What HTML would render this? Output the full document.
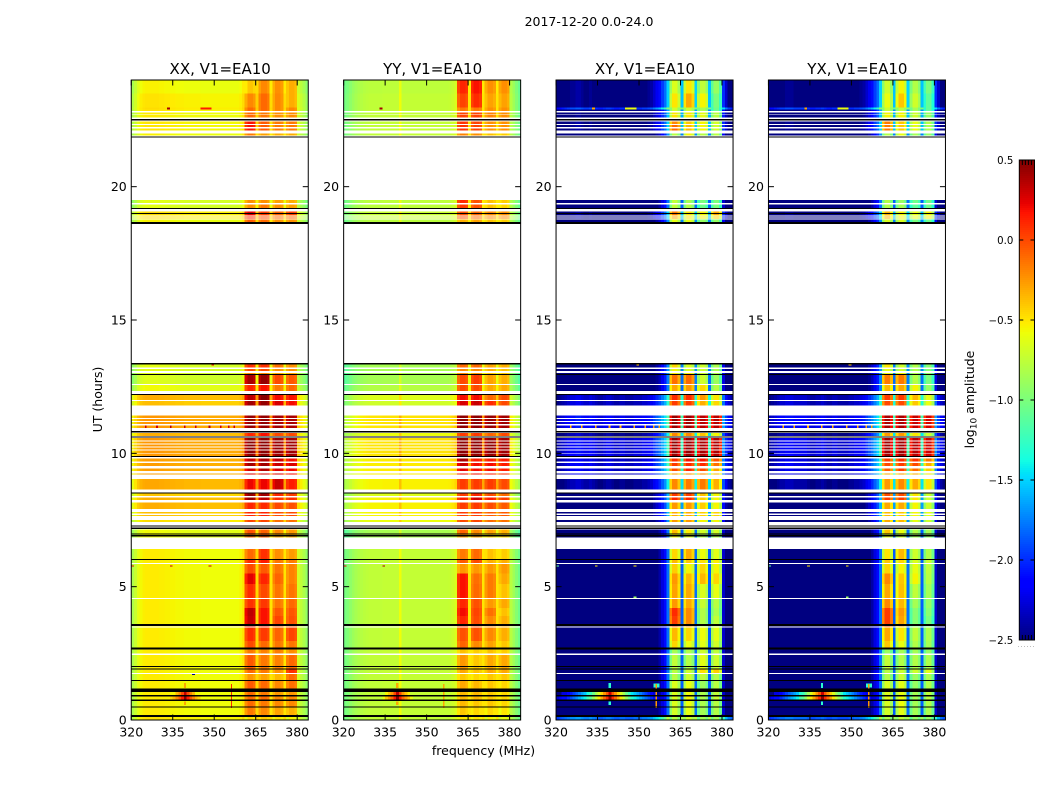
<!DOCTYPE html>
<html lang="en">
<head>
<meta charset="utf-8">
<title>2017-12-20 amplitude spectra</title>
<style>
html,body{margin:0;padding:0;background:#fff;}
svg{display:block;}
text{font-family:"DejaVu Sans","Liberation Sans",sans-serif;fill:#000;}
</style>
</head>
<body>
<svg id="figure" xmlns="http://www.w3.org/2000/svg" width="1050" height="800" viewBox="0 0 1050 800">
  <rect x="0" y="0" width="1050" height="800" fill="#fff"/>
  <text x="589" y="26" font-size="12.5" text-anchor="middle">2017-12-20 0.0-24.0</text>
  <text x="220.2" y="74" font-size="15" text-anchor="middle">XX, V1=EA10</text>
  <text x="432.6" y="74" font-size="15" text-anchor="middle">YY, V1=EA10</text>
  <text x="645" y="74" font-size="15" text-anchor="middle">XY, V1=EA10</text>
  <text x="857.4" y="74" font-size="15" text-anchor="middle">YX, V1=EA10</text>
  <text x="483.5" y="755" font-size="12.5" text-anchor="middle">frequency (MHz)</text>
  <text transform="translate(102,399.5) rotate(-90)" font-size="12.5" text-anchor="middle">UT (hours)</text>
  <text transform="translate(974,399.5) rotate(-90)" font-size="12.5" text-anchor="middle">log<tspan font-size="9" dy="2.5">10</tspan><tspan dy="-2.5"> amplitude</tspan></text>
  <text x="1026.5" y="647" font-size="6" letter-spacing="1.1" fill="#777" text-anchor="middle" style="fill:#777">......</text>
</svg>
<script>
var xTicks = [320, 335, 350, 365, 380];
var xTickLabels = ["320", "335", "350", "365", "380"];
var yTicks = [0, 5, 10, 15, 20];
var yTickLabels = ["0", "5", "10", "15", "20"];
var cbarTicks = [-2.5, -2, -1.5, -1, -0.5, 0, 0.5];
var cbarTickLabels = ["\u22122.5", "\u22122.0", "\u22121.5", "\u22121.0", "\u22120.5", "0.0", "0.5"];
var panelKeys = ["xx", "yy", "xy", "yx"];

var bandFirst = [41, 46, 51, 56];
var bandLast = [44, 49, 54, 59];

var xxProfile = [-.82,-.72,-.62,-.56,-.53,-.52,-.52,-.52,-.52,-.52,-.53,-.53,-.54,-.54,-.55,-.55,-.56,-.56,-.56,-.57,-.57,-.57,-.57,-.57,-.57,-.58,-.58,-.58,-.58,-.58,-.58,-.58,-.58,-.58,-.58,-.58,-.58,-.58,-.58,-.56,-.5,
  -.12,0,0,-.05,-.45,-.08,0,0,-.05,-.5,-.1,0,0,-.05,-.5,-.08,0,0,-.05,-.68,-.75,-.82,-.92];
var yyProfile = [-1.02,-.98,-.93,-.88,-.84,-.81,-.79,-.77,-.76,-.75,-.75,-.75,-.75,-.75,-.74,-.74,-.74,-.74,-.74,-.74,-.58,-.74,-.74,-.74,-.74,-.74,-.74,-.74,-.74,-.74,-.74,-.74,-.74,-.74,-.74,-.74,-.74,-.74,-.73,-.7,-.65,
  -.1,0,0,-.05,-.5,-.08,0,0,-.05,-.5,-.1,0,0,-.05,-.5,-.08,0,0,-.05,-.78,-.87,-.96,-1.05];
var xyProfile = [-2.4,-2.35,-2.3,-2.25,-2.2,-2.15,-2.15,-2.1,-2.1,-2.15,-2.2,-2.2,-2.15,-2.2,-2.25,-2.3,-2.3,-2.25,-2.2,-2.2,-2.25,-2.3,-2.3,-2.25,-2.25,-2.3,-2.3,-2.3,-2.25,-2.25,-2.25,-2.2,-2.2,-2.15,-2.1,-2.0,-1.9,-1.8,-1.65,-1.5,-1.2,
  -.25,0,0,-.2,-1.25,-.2,0,0,-.15,-1.2,-.2,0,0,-.15,-1.25,-.2,0,0,-.25,-1.7,-2.0,-2.2,-2.3];
var yxProfile = [-2.4,-2.35,-2.3,-2.25,-2.2,-2.2,-2.15,-2.15,-2.15,-2.2,-2.2,-2.2,-2.2,-2.2,-2.25,-2.3,-2.3,-2.25,-2.25,-2.2,-2.25,-2.3,-2.3,-2.25,-2.25,-2.3,-2.3,-2.3,-2.3,-2.25,-2.25,-2.2,-2.2,-2.15,-2.1,-2.0,-1.9,-1.8,-1.65,-1.5,-1.2,
  -.25,0,0,-.2,-1.25,-.2,0,0,-.15,-1.2,-.2,0,0,-.15,-1.25,-.2,0,0,-.25,-1.7,-2.0,-2.2,-2.3];

var rowStart = [0,.11,.49,.75,.90,1.05,1.46,1.77,1.91,2.485,2.7,2.97,3.51,3.9,4.2,4.58,5.1,5.5,5.89,6.03,
  6.84,7.0,7.43,7.65,7.74,7.91,8.25,8.4,8.65,9.2,9.34,9.53,9.7,9.89,10.02,10.14,10.25,10.37,10.49,10.65,10.95,11.1,11.21,11.32,11.79,12.0,12.34,12.6,12.98,13.09,13.22,
  18.67,18.8,18.88,18.93,19.2,19.38,
  21.91,22.1,22.23,22.35,22.6,22.71,22.83,22.9,22.97,23.5];
var rowEnd = [.11,.49,.75,.90,1.05,1.46,1.73,1.91,2.445,2.7,2.97,3.47,3.9,4.2,4.54,5.1,5.5,5.85,6.03,6.41,
  7.0,7.15,7.5,7.69,7.8,8.16,8.35,8.5,9.04,9.25,9.44,9.63,9.81,9.99,10.1,10.22,10.33,10.45,10.57,10.76,11.05,11.17,11.29,11.41,11.96,12.18,12.56,12.95,13.02,13.16,13.35,
  18.77,18.85,18.92,19.06,19.34,19.5,
  22.0,22.19,22.31,22.44,22.68,22.79,22.9,22.97,23.5,24];

var xxBands = [
[-.48,-.42,-.5,-.55],[-.15,-.2,-.28,-.33],[-.1,-.15,-.2,-.2],[-.1,-.1,-.2,-.2],[-.1,-.15,-.25,-.25],[-.05,-.1,-.2,-.12],[-.25,-.28,-.35,-.1],[-.1,-.15,-.22,.08],[-.05,-.15,-.18,-.1],[-.15,-.18,-.16,-.22],
[0,-.1,-.14,-.14],[.1,.05,-.08,.02],[.32,.18,.02,-.02],[.34,.18,-.04,-.04],[.08,.06,-.14,-.1],[.1,0,-.14,-.14],[.25,.12,-.08,-.18],[0,-.05,-.14,-.18],[.1,.15,-.14,-.16],[-.1,.08,-.22,-.26],
[-.1,-.08,-.3,-.3],[-.02,-.08,-.2,-.25],[.02,.02,-.12,-.12],[.12,.12,0,0],[.12,.12,0,0],[.12,.1,0,-.02],[.45,.35,.1,.1],[.45,.42,.12,.05],[.22,.22,.32,.15],[.28,.28,.28,.2],
[.3,.38,.28,.22],[.42,.42,.32,.28],[.32,.38,.32,.2],[.47,.47,.44,.42],[.47,.47,.44,.42],[.47,.47,.44,.42],[.47,.47,.44,.42],[.47,.47,.44,.42],[.47,.47,.44,.42],[.12,.18,0,0],
[.45,.45,.42,.4],[.45,.45,.42,.4],[.45,.45,.42,.4],[.45,.45,.42,.4],[.42,.45,.28,.2],[.35,.48,.2,.18],[.12,.18,-.15,-.1],[.4,.45,0,-.05],[-.2,-.2,-.3,-.3],[0,0,-.22,-.22],[.08,.08,-.12,-.22],
[-.05,-.1,-.22,-.22],[.12,0,-.1,-.1],[.12,0,-.1,-.1],[.25,.05,-.08,.02],[-.22,-.15,-.22,-.28],[-.22,-.22,-.28,-.32],
[-.15,-.28,-.32,-.32],[.18,-.05,-.15,-.15],[.18,-.05,-.15,-.15],[.18,-.05,-.15,-.15],[-.1,-.15,-.22,-.22],[-.1,-.15,-.22,-.22],[-.1,-.1,-.2,-.2],[-.1,-.1,-.2,-.2],[-.2,-.1,-.2,-.32],[-.4,-.2,-.22,-.32]];
var xxOffset = [.03,0,0,0,0,0,0,0,0,0,0,0,0,0,0,0,0,0,0,0,
  -.05,-.05,.05,.15,.15,.2,.2,.12,.22,.25,.25,.25,.25,.27,.27,.27,.27,.27,.27,.2,.27,.27,.27,.27,.15,.2,-.05,-.12,-.1,-.1,-.1,
  -.02,.05,.05,.05,-.1,-.1,
  -.02,.02,.02,.02,0,0,.02,.05,.03,-.02];

var yyBands = [
[-.5,-.5,-.55,-.6],[-.4,-.45,-.45,-.5],[-.35,-.4,-.4,-.45],[-.35,-.35,-.4,-.45],[-.35,-.35,-.4,-.45],[-.3,-.35,-.4,-.45],[-.4,-.45,-.4,-.4],[-.3,-.38,-.3,-.3],[-.25,-.4,-.3,-.3],[-.38,-.42,-.38,-.42],
[-.08,-.2,-.28,-.4],[-.02,-.02,-.2,-.32],[.12,0,-.2,-.32],[.2,.02,-.12,-.38],[.12,-.02,-.25,-.3],[.18,-.1,-.15,-.38],[.18,-.12,-.15,-.3],[-.25,-.25,-.25,-.25],[-.05,0,-.32,-.32],[-.15,-.1,-.38,-.42],
[-.25,-.28,-.45,-.45],[-.08,-.2,-.28,-.32],[0,.02,-.1,-.12],[.05,.05,-.05,-.05],[.05,.05,-.05,-.05],[.05,.05,0,-.05],[.15,.3,.15,.05],[.05,.12,0,-.1],[.05,.05,.05,0],[.2,.2,.15,.1],
[.25,.2,.2,.15],[.32,.2,.2,.15],[.4,.15,.15,.15],[.47,.47,.46,.42],[.47,.47,.46,.42],[.47,.47,.46,.42],[.47,.47,.46,.42],[.47,.47,.46,.42],[.47,.47,.46,.42],[.05,.05,-.08,0],
[.47,.47,.45,.42],[.47,.47,.45,.42],[.47,.47,.45,.42],[.47,.47,.45,.42],[.28,.32,.1,0],[.2,.2,-.1,0],[0,0,-.3,-.3],[0,.05,-.28,-.32],[-.2,-.25,-.4,-.4],[-.2,-.2,-.32,-.38],[-.1,-.1,-.28,-.32],
[-.32,-.28,-.38,-.42],[-.02,-.1,-.2,-.2],[-.02,-.1,-.2,-.2],[-.02,-.1,-.2,-.22],[.05,-.02,-.38,-.45],[.1,-.02,-.38,-.42],
[-.18,-.22,-.38,-.42],[.08,.02,-.22,-.22],[.08,.02,-.22,-.22],[.08,.02,-.22,-.22],[.02,.02,-.18,-.22],[.02,.02,-.18,-.22],[-.15,-.15,-.22,-.22],[-.15,-.15,-.22,-.22],[.02,.1,-.28,-.28],[.12,.18,-.22,-.22]];
var yyOffset = [0,0,0,0,0,0,0,0,0,0,0,0,0,0,0,0,0,0,0,0,
  -.1,-.1,.15,.2,.2,.2,.2,.1,.2,.22,.22,.22,.22,.25,.25,.25,.25,.25,.25,.15,.25,.25,.25,.25,.05,.1,-.05,-.1,-.1,-.1,-.1,
  -.03,.02,.02,.02,-.02,-.02,
  0,0,0,0,0,0,0,0,0,-.02];

var xyBands = [
[-.78,-.68,-.85,-.85],[-.68,-.6,-.85,-.8],[-.65,-.58,-.82,-.78],[-.65,-.55,-.82,-.72],[-.65,-.58,-.82,-.75],[-.65,-.6,-.88,-.78],[-.78,-.7,-.75,-.8],[-.78,-.7,-.48,-.42],[-.75,-.8,-.62,-.7],[-.85,-.8,-.7,-.75],
[-.45,-.58,-.62,-.68],[-.35,-.45,-.58,-.62],[.05,-.2,-.8,-.75],[.1,-.2,-.8,-.82],[-.25,-.3,-.72,-.78],[-.28,-.3,-.65,-.6],[-.25,-.35,-.35,-.45],[-.42,-.55,-.45,-.55],[-.35,-.4,-.48,-.52],[-.45,-.3,-.58,-.62],
[-.55,-.62,-.8,-.8],[-.35,-.52,-.68,-.68],[-.25,-.25,-.55,-.55],[-.3,-.3,-.42,-.42],[-.3,-.3,-.42,-.42],[-.25,-.25,-.42,-.55],[.12,.12,-.42,-.55],[.05,.05,-.38,-.55],[-.2,-.15,-.15,-.32],[-.25,-.2,-.2,-.35],
[0,.12,0,-.28],[.05,.1,.1,-.12],[.1,.18,.18,-.02],[.45,.45,.4,.38],[.45,.45,.4,.38],[.45,.45,.4,.38],[.45,.45,.4,.38],[.45,.45,.4,.38],[.45,.45,.4,.38],[-.2,-.2,-.38,-.55],
[.44,.44,.36,.36],[.44,.44,.36,.36],[.44,.44,.36,.36],[.44,.44,.36,.36],[.05,.05,-.32,-.45],[.1,.1,-.25,-.5],[-.3,-.25,-.45,-.78],[-.12,-.1,-.7,-.88],[-.5,-.5,-.7,-.8],[-.55,-.65,-.7,-.82],[-.45,-.65,-.7,-.82],
[-.6,-.6,-.9,-.9],[-.3,-.5,-.55,-.45],[-.3,-.5,-.55,-.45],[-.15,-.5,-.55,-.3],[-.75,-.8,-1.05,-1],[-.75,-.85,-1,-1],
[-.78,-.55,-.78,-.78],[-.1,-.35,-.55,-.68],[-.1,-.35,-.55,-.68],[-.2,-.4,-.55,-.68],[-.5,-.5,-.62,-.78],[-.5,-.5,-.62,-.78],[-.7,-.7,-.82,-1.05],[-.7,-.7,-.82,-1.05],[-.5,-.3,-.55,-1],[-.65,-.5,-.75,-.9]];
var xyOffset = [.45,-.6,-.6,-.6,-.6,-.6,-.6,-.6,-.6,-.6,-.6,-.6,-.6,-.6,-.6,-.6,-.6,-.6,-.6,-.6,
  -.6,-.6,-.5,-.4,-.4,-.4,-.4,-.4,-.2,-.05,-.05,-.03,-.05,0,0,0,0,0,0,-.2,.05,.05,.05,.05,-.1,-.1,-.55,-.55,-.5,-.5,-.5,
  -.5,-.3,-.3,-.3,-.6,-.6,
  -.5,-.3,-.3,-.3,-.35,-.35,-.45,.25,-.3,-.3];

var yxBands = [
[-.8,-.75,-.9,-.9],[-.68,-.62,-.85,-.82],[-.66,-.58,-.85,-.8],[-.62,-.58,-.84,-.76],[-.64,-.6,-.84,-.76],[-.66,-.62,-.9,-.8],[-.8,-.72,-.88,-.82],[-.78,-.72,-.7,-.62],[-.74,-.8,-.8,-.82],[-.88,-.85,-.85,-.9],
[-.4,-.6,-.8,-.85],[-.3,-.5,-.75,-.82],[.05,-.28,-.95,-1],[.05,-.25,-.95,-.95],[-.2,-.35,-.85,-.9],[-.3,-.38,-.75,-.85],[-.2,-.4,-.55,-.78],[-.45,-.55,-.6,-.75],[-.4,-.45,-.65,-.7],[-.5,-.35,-.7,-.8],
[-.6,-.7,-.85,-.9],[-.4,-.6,-.8,-.85],[-.3,-.35,-.6,-.7],[-.35,-.4,-.55,-.6],[-.35,-.4,-.55,-.6],[-.3,-.3,-.55,-.7],[.05,.05,-.5,-.7],[0,0,-.5,-.7],[-.25,-.2,-.3,-.5],[-.3,-.25,-.3,-.5],
[-.05,.05,-.1,-.42],[0,.05,0,-.3],[.05,.1,.08,-.15],[.42,.42,.36,.3],[.42,.42,.36,.3],[.42,.42,.36,.3],[.42,.42,.36,.3],[.42,.42,.36,.3],[.42,.42,.36,.3],[-.25,-.25,-.5,-.7],
[.4,.4,.32,.28],[.4,.4,.32,.28],[.4,.4,.32,.28],[.4,.4,.32,.28],[0,0,-.4,-.6],[.05,.05,-.35,-.6],[-.35,-.3,-.55,-.9],[-.15,-.15,-.8,-1],[-.55,-.55,-.8,-.9],[-.6,-.7,-.8,-.95],[-.5,-.7,-.8,-.95],
[-.65,-.65,-1,-1.05],[-.35,-.55,-.6,-.55],[-.35,-.55,-.6,-.55],[-.35,-.55,-.6,-.55],[-.8,-.85,-1.1,-1.05],[-.8,-.9,-1.05,-1.05],
[-.8,-.6,-.85,-.9],[-.15,-.4,-.6,-.8],[-.15,-.4,-.6,-.8],[-.15,-.4,-.6,-.8],[-.55,-.55,-.7,-.9],[-.55,-.55,-.7,-.9],[-.72,-.75,-.85,-1.1],[-.72,-.75,-.85,-1.1],[-.6,-.4,-.7,-1.1],[-.7,-.55,-.8,-1]];
var yxOffset = [.4,-.6,-.6,-.6,-.6,-.6,-.6,-.6,-.6,-.6,-.6,-.6,-.6,-.6,-.6,-.6,-.6,-.6,-.6,-.6,
  -.6,-.6,-.5,-.4,-.4,-.4,-.4,-.4,-.2,-.05,-.05,-.03,-.05,0,0,0,0,0,0,-.2,.05,.05,.05,.05,-.1,-.1,-.55,-.55,-.5,-.5,-.5,
  -.5,-.3,-.3,-.3,-.6,-.6,
  -.5,-.3,-.3,-.3,-.35,-.35,-.45,.25,-.3,-.3];

var starStart = [.75, .92];
var starEnd = [.89, 1.05];
var starGain = [0, -.15];
var starChannels = [0,1,2,3,4,5,6,7,8,9,10,11,12,13,14,15,16,17,18,19,20,21,22,23,24,25,26,27,28,29,30,31,32,33,34,35,36,37];
var xxStar = [-3,-3,-3,-3,-3,-3,-3,-3,-3,-3,-3,-3,-3,-3,-.45,-.35,-.2,-.05,.15,.48,.15,-.05,-.2,-.35,-.45,-3,-3,-3,-3,-3,-3,-3,-3,-3,-3,-3,-3,-3];
var yyStar = [-3,-3,-3,-3,-3,-3,-3,-3,-3,-3,-3,-3,-3,-3,-.6,-.4,-.25,-.1,.15,.48,.15,-.1,-.25,-.4,-.6,-3,-3,-3,-3,-3,-3,-3,-3,-3,-3,-3,-3,-3];
var xyStar = [-2.3,-2.2,-2.1,-2.1,-2,-1.9,-1.8,-1.7,-1.6,-1.5,-1.4,-1.2,-1.1,-.9,-.7,-.5,-.3,-.1,.1,.45,.1,-.1,-.3,-.5,-.7,-.9,-1.1,-1.3,-1.4,-1.5,-1.6,-1.7,-1.8,-1.9,-2,-2.1,-2.2,-2.3];
var yxStar = [-2.3,-2.2,-2.1,-2.1,-2,-1.9,-1.8,-1.7,-1.6,-1.5,-1.4,-1.2,-1.1,-.9,-.7,-.5,-.3,-.1,.1,.45,.1,-.1,-.3,-.5,-.7,-.9,-1.1,-1.3,-1.4,-1.5,-1.6,-1.7,-1.8,-1.9,-2,-2.1,-2.2,-2.3];
var starFloor = [-.5, -.62, -2.35, -2.35];

var rfiFreq = [355.2,339,339,356,320,334,348,342,348,333,345,346,347,348,325,329,334,339,343,348,352,355,357,349];
var rfiWidth = [2.2,.8,.8,.5,1,1,1,1,1,1,1,1,1,1,.6,.6,.6,.6,.6,.6,.6,.6,.6,1];
var rfiStart = [1.22,1.2,.56,.45,5.76,5.76,5.76,1.69,4.58,22.9,22.9,22.9,22.9,22.9,10.95,10.95,10.95,10.95,10.95,10.95,10.95,10.95,10.95,13.3];
var rfiEnd = [1.37,1.38,.69,1.35,5.8,5.8,5.8,1.73,4.63,22.97,22.97,22.97,22.97,22.97,11.05,11.05,11.05,11.05,11.05,11.05,11.05,11.05,11.05,13.35];
var rfiXX = [-9,-.3,-.3,.1,.2,.3,.3,-2.5,-9,.4,.15,.15,.15,.15,.3,.3,.35,.3,.3,.35,.3,.3,.3,.2];
var rfiYY = [-9,-.3,-.3,-.3,.2,.4,-9,-9,-9,.4,-9,-9,-9,-9,-9,-9,-9,-9,-9,-9,-9,-9,-9,-9];
var rfiXY = [-1.3,-1.3,-1.3,-.25,-1.1,-.5,-.5,-9,-.9,-.3,-.6,-.6,-.6,-.6,-.3,-.3,-.3,-.3,-.3,-.3,-.3,-.3,-.3,-.4];
var rfiYX = [-1.3,-1.3,-1.3,-.25,-1.1,-.5,-.5,-9,-.9,-.3,-.6,-.6,-.6,-.6,-.3,-.3,-.3,-.3,-.3,-.3,-.3,-.3,-.3,-.4];

var flagStart = [.11,.47,.72,.89,1.05,1.46,1.89,1.98,2.65,3.53,6.0,6.89,6.96,7.17,7.25,8.5,9.86,10.6,10.79,12.18,12.94,13.34,18.6,18.97,19.16,21.84,22.49];
var flagEnd = [.18,.51,.76,.93,1.19,1.5,1.93,2.02,2.72,3.6,6.04,6.93,7.0,7.21,7.29,8.54,9.9,10.64,10.84,12.22,12.98,13.38,18.67,19.01,19.2,21.88,22.53];

var seriesBands = [xxBands, yyBands, xyBands, yxBands];
var seriesOffset = [xxOffset, yyOffset, xyOffset, yxOffset];
var seriesProfile = [xxProfile, yyProfile, xyProfile, yxProfile];
var seriesStar = [xxStar, yyStar, xyStar, yxStar];
var seriesRfi = [rfiXX, rfiYY, rfiXY, rfiYX];

var SVGNS = "http://www.w3.org/2000/svg";
var fig = document.getElementById("figure");
var axesLeft = 131.25, axesWidth = 177, axesGap = 35.4, axesTop = 80, axesHeight = 640;
var freqMin = 320, freqMax = 384, timeMin = 0, timeMax = 24;
var cbarLeft = 1019.3, cbarWidth = 15.2, cbarTop = 160, cbarHeight = 480, cbarMin = -2.5, cbarMax = 0.5;

function panelX(p, mhz) {
  return axesLeft + p * (axesWidth + axesGap) + (mhz - freqMin) / (freqMax - freqMin) * axesWidth;
}
function timeY(h) {
  return axesTop + axesHeight - (h - timeMin) / (timeMax - timeMin) * axesHeight;
}
function cbarY(v) {
  return cbarTop + cbarHeight - (v - cbarMin) / (cbarMax - cbarMin) * cbarHeight;
}
function jetChannel(t, pts) {
  for (var i = 1; i < pts.length; i++) {
    if (t <= pts[i][0]) {
      var a = pts[i - 1], b = pts[i];
      return a[1] + (b[1] - a[1]) * (t - a[0]) / (b[0] - a[0]);
    }
  }
  return pts[pts.length - 1][1];
}
function jet(v) {
  var t = Math.max(0, Math.min(1, (v - cbarMin) / (cbarMax - cbarMin)));
  var r = jetChannel(t, [[0, 0], [.35, 0], [.66, 1], [.89, 1], [1, .5]]);
  var g = jetChannel(t, [[0, 0], [.125, 0], [.375, 1], [.64, 1], [.91, 0], [1, 0]]);
  var b = jetChannel(t, [[0, .5], [.11, 1], [.34, 1], [.65, 0], [1, 0]]);
  return "rgb(" + Math.round(r * 255) + "," + Math.round(g * 255) + "," + Math.round(b * 255) + ")";
}
function bandOf(channel) {
  for (var i = 0; i < bandFirst.length; i++) {
    if (channel >= bandFirst[i] && channel <= bandLast[i]) return i;
  }
  return -1;
}
function newRect(parent, x, y, w, h, fill) {
  var r = document.createElementNS(SVGNS, "rect");
  r.setAttribute("x", x.toFixed(2));
  r.setAttribute("y", y.toFixed(2));
  r.setAttribute("width", w.toFixed(2));
  r.setAttribute("height", h.toFixed(2));
  r.setAttribute("fill", fill);
  parent.appendChild(r);
  return r;
}
function newLine(parent, x1, y1, x2, y2) {
  var l = document.createElementNS(SVGNS, "line");
  l.setAttribute("x1", x1.toFixed(2));
  l.setAttribute("y1", y1.toFixed(2));
  l.setAttribute("x2", x2.toFixed(2));
  l.setAttribute("y2", y2.toFixed(2));
  l.setAttribute("stroke", "#000");
  l.setAttribute("stroke-width", "1");
  parent.appendChild(l);
  return l;
}
function newText(parent, x, y, size, anchor, str) {
  var t = document.createElementNS(SVGNS, "text");
  t.setAttribute("x", x.toFixed(2));
  t.setAttribute("y", y.toFixed(2));
  t.setAttribute("font-size", size);
  t.setAttribute("text-anchor", anchor);
  t.textContent = str;
  parent.appendChild(t);
  return t;
}
function newGroup(crisp) {
  var g = document.createElementNS(SVGNS, "g");
  if (crisp) g.setAttribute("shape-rendering", "crispEdges");
  fig.appendChild(g);
  return g;
}

panelKeys.forEach(function (key, p) {
  var cells = newGroup(true);
  
  
  var profile = seriesProfile[p], bands = seriesBands[p], offset = seriesOffset[p];

  rowStart.forEach(function (start, r) {
    var yTop = timeY(rowEnd[r]), yBot = timeY(start);
    for (var ch = 0; ch < profile.length; ch++) {
      var band = bandOf(ch);
      var value = band >= 0 ? bands[r][band] + profile[ch] : profile[ch] + offset[r];
      var x0 = panelX(p, freqMin + ch), x1 = panelX(p, freqMin + ch + 1);
      var cell = newRect(cells, x0, yTop, x1 - x0, yBot - yTop, jet(value));
      
      
    }
  });

  starStart.forEach(function (start, s) {
    starChannels.forEach(function (ch, i) {
      var value = seriesStar[p][i] + starGain[s];
      if (value <= starFloor[p]) return;
      var x0 = panelX(p, freqMin + ch), x1 = panelX(p, freqMin + ch + 1);
      var cell = newRect(cells, x0, timeY(starEnd[s]), x1 - x0, timeY(start) - timeY(starEnd[s]), jet(value));
      
      
    });
  });

  rfiFreq.forEach(function (mhz, i) {
    var value = seriesRfi[p][i];
    if (value < -5) return;
    var x0 = panelX(p, mhz), x1 = panelX(p, mhz + rfiWidth[i]);
    var cell = newRect(cells, x0, timeY(rfiEnd[i]), x1 - x0, timeY(rfiStart[i]) - timeY(rfiEnd[i]), jet(value));
    
    
  });

  flagStart.forEach(function (start, i) {
    var band = newRect(cells, panelX(p, freqMin), timeY(flagEnd[i]), axesWidth, timeY(start) - timeY(flagEnd[i]), "#000");
    
    
  });

  var frame = newRect(fig, panelX(p, freqMin), axesTop, axesWidth, axesHeight, "none");
  frame.setAttribute("stroke", "#000");
  frame.setAttribute("stroke-width", "1");
  
  

  var tickLen = 5.5;
  xTicks.forEach(function (mhz, i) {
    var x = panelX(p, mhz);
    var lower = newLine(fig, x, axesTop + axesHeight, x, axesTop + axesHeight - tickLen);
    
    
    var upper = newLine(fig, x, axesTop, x, axesTop + tickLen);
    
    
    var label = newText(fig, x, axesTop + axesHeight + 16.5, "12.5", "middle", xTickLabels[i]);
    
    
  });
  yTicks.forEach(function (h, i) {
    var y = timeY(h), xl = panelX(p, freqMin), xr = panelX(p, freqMax);
    var left = newLine(fig, xl, y, xl + tickLen, y);
    
    
    var right = newLine(fig, xr, y, xr - tickLen, y);
    
    
    var label = newText(fig, xl - 4.5, y + 4.5, "12.5", "end", yTickLabels[i]);
    
    
  });
});

var cbarGroup = newGroup(true);


for (var s = 0; s < 240; s++) {
  var v0 = cbarMin + (cbarMax - cbarMin) * s / 240;
  var v1 = cbarMin + (cbarMax - cbarMin) * (s + 1) / 240;
  var swatch = newRect(cbarGroup, cbarLeft, cbarY(v1), cbarWidth, cbarY(v0) - cbarY(v1), jet((v0 + v1) / 2));
  
  
}
var cbarFrame = newRect(fig, cbarLeft, cbarTop, cbarWidth, cbarHeight, "none");
cbarFrame.setAttribute("stroke", "#000");
cbarFrame.setAttribute("stroke-width", "1");


cbarTicks.forEach(function (v, i) {
  var y = cbarY(v);
  var a = newLine(fig, cbarLeft, y, cbarLeft + 4, y);
  
  
  var b = newLine(fig, cbarLeft + cbarWidth, y, cbarLeft + cbarWidth - 4, y);
  
  
  var label = newText(fig, cbarLeft - 6, y + 3.8, "10.2", "end", cbarTickLabels[i]);
  
  
});
for (var k = 1; k <= 4; k++) {
  var tx = cbarLeft + cbarWidth * k / 5;
  var topTick = newLine(fig, tx, cbarTop, tx, cbarTop + 5);
  
  
  var botTick = newLine(fig, tx, cbarTop + cbarHeight, tx, cbarTop + cbarHeight - 5);
  
  
}
</script>
</body>
</html>
